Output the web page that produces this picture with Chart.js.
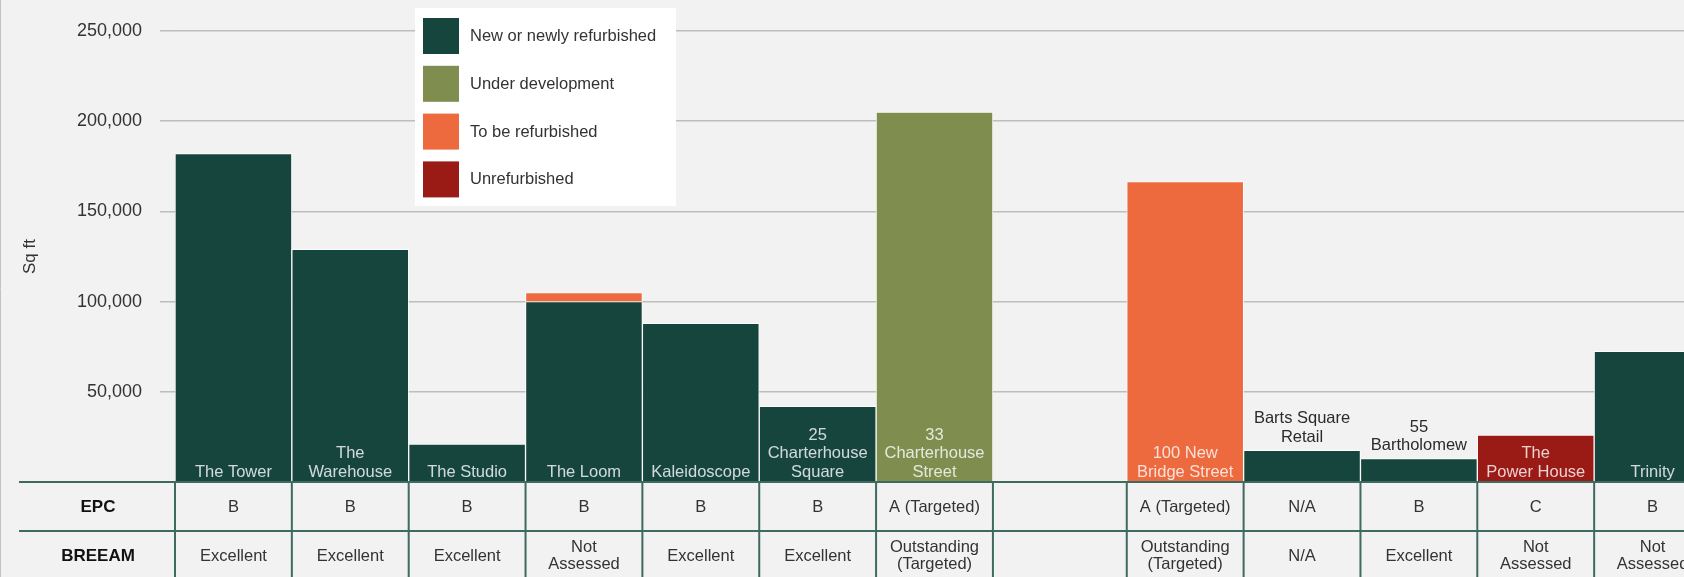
<!DOCTYPE html>
<html>
<head>
<meta charset="utf-8">
<script src="https://cdn.jsdelivr.net/npm/chart.js@4.4.1/dist/chart.umd.min.js"></script>
<style>
  html, body { margin: 0; padding: 0; background: #f2f2f2; overflow: hidden; }
  #wrap { width: 1711px; height: 577px; }
</style>
</head>
<body>
<div id="wrap"><canvas id="myChart" width="1711" height="577"></canvas></div>
<script>
// data
const buildings = [
  "The Tower", ["The", "Warehouse"], "The Studio", "The Loom", "Kaleidoscope",
  ["25", "Charterhouse", "Square"], ["33", "Charterhouse", "Street"], "",
  ["100 New", "Bridge Street"], ["Barts Square", "Retail"], ["55", "Bartholomew"],
  ["The", "Power House"], "Trinity"
];
const newlyRefurbished = [182000, 129000, 21000, 100000, 88000, 42000, null, null, null, 17500, 13000, null, 72500];
const underDevelopment = [null, null, null, null, null, null, 205000, null, null, null, null, null, null];
const toBeRefurbished = [null, null, null, 5000, null, null, null, null, 166500, null, null, null, null];
const unrefurbished = [null, null, null, null, null, null, null, null, null, null, null, 26000, null];
const epc = ["B", "B", "B", "B", "B", "B", "A (Targeted)", "", "A (Targeted)", "N/A", "B", "C", "B"];
const breeam = ["Excellent", "Excellent", "Excellent", ["Not", "Assessed"], "Excellent", "Excellent",
  ["Outstanding", "(Targeted)"], "", ["Outstanding", "(Targeted)"], "N/A", "Excellent",
  ["Not", "Assessed"], ["Not", "Assessed"]];
const yTicks = [50000, 100000, 150000, 200000, 250000];

const FONT = '"Liberation Sans", Arial, sans-serif';
const lineColor = "#3e6a60";
const gapIndex = buildings.indexOf("");
const GAP_EXTRA = 17; // the blank column is a bit wider than the others

const drawLines = (ctx, lines, cx, cy, lh) => {
  lines.forEach((t, k) => ctx.fillText(t, cx, cy + (k - (lines.length - 1) / 2) * lh));
};

const extras = {
  id: "extras",
  afterLayout(chart) {
    // widen the empty slot on the category axis
    const x = chart.scales.x;
    const area = chart.chartArea;
    const n = chart.data.labels.length;
    const step = (area.right - area.left - GAP_EXTRA) / n;
    x.getPixelForValue = (v) => {
      const idx = typeof v === "number" ? v : x.parse(v);
      const u = idx + 0.5;
      return area.left + u * step + GAP_EXTRA * Math.min(Math.max(u - gapIndex, 0), 1);
    };
  },
  beforeDraw(chart) {
    const { ctx, height } = chart;
    ctx.save();
    ctx.strokeStyle = "#c2c2c2";
    ctx.lineWidth = 1;
    ctx.beginPath();
    ctx.moveTo(0.5, 0);
    ctx.lineTo(0.5, height);
    ctx.stroke();
    ctx.restore();
  },
  afterDatasetsDraw(chart) {
    const { ctx, width, height } = chart;
    const x = chart.scales.x, y = chart.scales.y;
    const n = chart.data.labels.length;

    // building names at the foot of each bar
    ctx.save();
    ctx.font = "16.5px " + FONT;
    ctx.textAlign = "center";
    ctx.textBaseline = "middle";
    const lh = 18.5;
    chart.data.labels.forEach((lab, i) => {
      const lines = [].concat(lab).filter((s) => s);
      if (!lines.length) return;
      const total = chart.data.datasets.reduce((s, d) => s + (d.data[i] || 0), 0);
      const top = y.getPixelForValue(total);
      const cx = x.getPixelForValue(i);
      const inside = y.bottom - top >= lines.length * lh + 7;
      const lastY = inside ? y.bottom - 10 : top - 13;
      ctx.fillStyle = inside ? "rgba(255,255,255,0.8)" : "#2b2b2b";
      lines.forEach((t, k) => ctx.fillText(t, cx, lastY - (lines.length - 1 - k) * lh));
    });

    // EPC / BREEAM table
    const rowTop = y.bottom, rowMid = 531;
    ctx.strokeStyle = lineColor;
    ctx.lineWidth = 2;
    ctx.beginPath();
    ctx.moveTo(19, rowTop); ctx.lineTo(width, rowTop);
    ctx.moveTo(19, rowMid); ctx.lineTo(width, rowMid);
    for (let i = 0; i <= n; i++) {
      const bx = x.getPixelForValue(i - 0.5);
      ctx.moveTo(bx, rowTop); ctx.lineTo(bx, height);
    }
    ctx.stroke();

    ctx.fillStyle = "#111";
    ctx.font = "bold 17px " + FONT;
    ctx.fillText("EPC", 98, 507);
    ctx.fillText("BREEAM", 98, 556);
    ctx.fillStyle = "#333";
    ctx.font = "16.5px " + FONT;
    for (let i = 0; i < n; i++) {
      const cx = x.getPixelForValue(i);
      drawLines(ctx, [].concat(epc[i]).filter((s) => s), cx, 507, 17.7);
      drawLines(ctx, [].concat(breeam[i]).filter((s) => s), cx, 556, 17.7);
    }
    ctx.restore();
  },
  afterDraw(chart) {
    // legend box
    const { ctx } = chart;
    ctx.save();
    ctx.fillStyle = "#ffffff";
    ctx.fillRect(415, 8, 261, 198);
    ctx.font = "16.5px " + FONT;
    ctx.textAlign = "left";
    ctx.textBaseline = "middle";
    chart.data.datasets.forEach((d, i) => {
      const sy = 18 + i * 47.8;
      ctx.fillStyle = d.backgroundColor;
      ctx.fillRect(423, sy, 36, 36);
      ctx.fillStyle = "#333";
      ctx.fillText(d.label, 470, sy + 18.5);
    });
    ctx.restore();
  }
};

const barStyle = {
  borderWidth: 1,
  borderColor: "rgba(255,255,255,0.85)",
  borderSkipped: "start",
  categoryPercentage: 1,
  barPercentage: 1
};

new Chart(document.getElementById("myChart"), {
  type: "bar",
  data: {
    labels: buildings,
    datasets: [
      { label: "New or newly refurbished", data: newlyRefurbished, backgroundColor: "#16453d", ...barStyle },
      { label: "Under development", data: underDevelopment, backgroundColor: "#7f8d4f", ...barStyle },
      { label: "To be refurbished", data: toBeRefurbished, backgroundColor: "#ed6a3e", ...barStyle },
      { label: "Unrefurbished", data: unrefurbished, backgroundColor: "#9a1a16", ...barStyle }
    ]
  },
  options: {
    responsive: false,
    animation: false,
    layout: { padding: { top: 31, bottom: 95, left: 0, right: 0 } },
    plugins: { legend: { display: false }, tooltip: { enabled: false } },
    scales: {
      x: { stacked: true, display: false, offset: true },
      y: {
        stacked: true,
        min: 0,
        max: 250000,
        afterFit: (s) => { s.width = 175; },
        afterBuildTicks: (s) => { s.ticks = yTicks.map((v) => ({ value: v })); },
        border: { display: false },
        grid: { color: "#bdbdbd", lineWidth: 1.5, tickLength: 15, drawTicks: true },
        ticks: {
          padding: 18,
          color: "#333",
          font: { family: FONT, size: 18 },
          callback: (v) => v.toLocaleString("en-GB")
        },
        title: {
          display: true,
          text: "Sq ft",
          color: "#333",
          font: { family: FONT, size: 17 },
          padding: { top: 20, bottom: 0 }
        }
      }
    }
  },
  plugins: [extras]
});
</script>
</body>
</html>
